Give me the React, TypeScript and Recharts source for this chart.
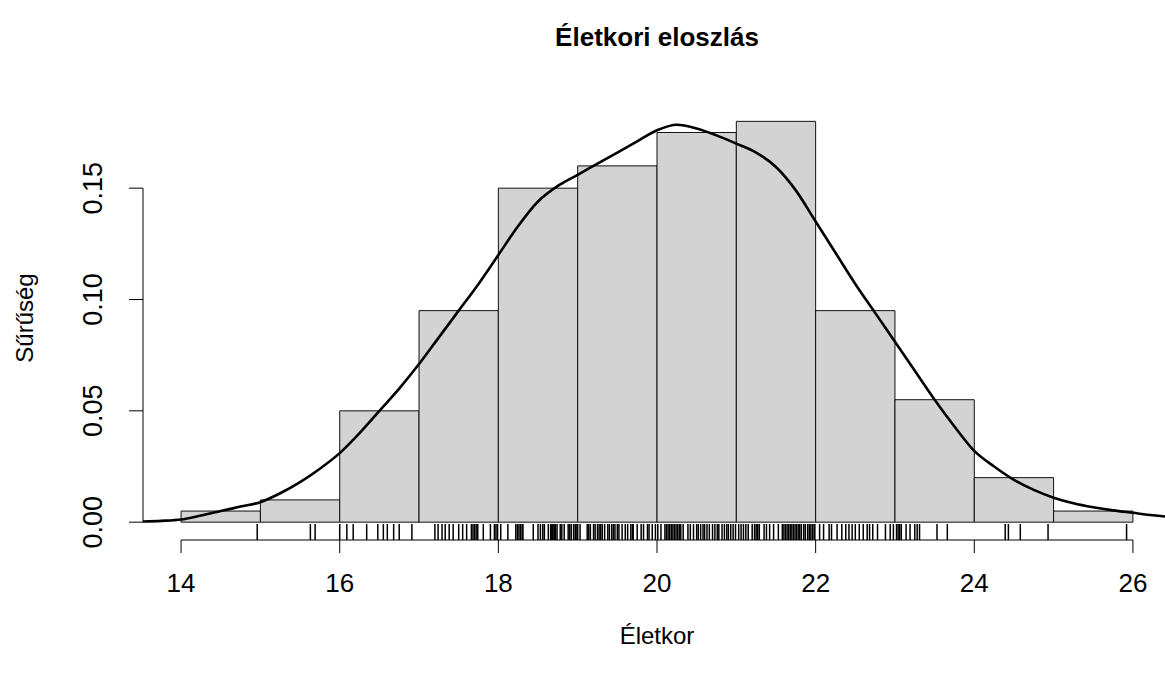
import {
  ComposedChart,
  Line,
  Scatter,
  XAxis,
  YAxis,
  ReferenceArea,
  ReferenceLine,
} from "recharts";

// histogram bins (density scale)
const binStarts = [14, 15, 16, 17, 18, 19, 20, 21, 22, 23, 24, 25];
const binDensity = [0.005, 0.01, 0.05, 0.095, 0.15, 0.16, 0.175, 0.18, 0.095, 0.055, 0.02, 0.005];

// kernel density curve
const densityAges = [
  13.52, 13.75, 14.0, 14.25, 14.5, 14.75, 15.0, 15.25, 15.5, 15.75, 16.0, 16.25, 16.5, 16.75,
  17.0, 17.25, 17.5, 17.75, 18.0, 18.25, 18.5, 18.75, 19.0, 19.25, 19.5, 19.75, 20.0, 20.25,
  20.5, 20.75, 21.0, 21.25, 21.5, 21.75, 22.0, 22.25, 22.5, 22.75, 23.0, 23.25, 23.5, 23.75,
  24.0, 24.25, 24.5, 24.75, 25.0, 25.25, 25.5, 25.75, 26.0, 26.25, 26.48,
];
const densityValues = [
  0.0003, 0.0006, 0.0012, 0.003, 0.005, 0.007, 0.009, 0.013, 0.018, 0.024, 0.031, 0.04, 0.05, 0.06,
  0.071, 0.083, 0.095, 0.107, 0.12, 0.133, 0.144, 0.151, 0.156, 0.161, 0.166, 0.171, 0.176, 0.1785,
  0.1768, 0.1737, 0.17, 0.166, 0.1595, 0.149, 0.135, 0.121, 0.107, 0.094, 0.081, 0.068, 0.055, 0.043,
  0.032, 0.025, 0.019, 0.0145, 0.011, 0.0085, 0.0067, 0.0053, 0.0042, 0.0031, 0.0023,
];

// individual observations (rug)
const rugAges = [
  14.96,
  15.63, 15.69,
  16.0, 16.09, 16.17, 16.34, 16.48, 16.55, 16.6, 16.68, 16.75, 16.91,
  17.2, 17.24, 17.29, 17.33, 17.38, 17.43, 17.5, 17.55, 17.6, 17.66, 17.68, 17.7, 17.72, 17.74,
  17.81, 17.9, 17.95, 17.97, 17.99,
  18.03, 18.12, 18.22, 18.24, 18.26, 18.28, 18.3, 18.31, 18.44, 18.5, 18.53, 18.56, 18.58, 18.63,
  18.66, 18.67, 18.68, 18.7, 18.71, 18.72, 18.74, 18.78, 18.8, 18.83, 18.88, 18.9, 18.92, 18.95,
  18.97, 18.99,
  19.0, 19.03, 19.12, 19.14, 19.16, 19.2, 19.22, 19.25, 19.27, 19.29, 19.31, 19.34, 19.38, 19.4,
  19.43, 19.45, 19.47, 19.5, 19.52, 19.56, 19.6, 19.63, 19.67, 19.69, 19.7, 19.75, 19.8, 19.83,
  19.88, 19.9, 19.94, 19.98,
  20.01, 20.05, 20.1, 20.12, 20.14, 20.16, 20.18, 20.2, 20.22, 20.24, 20.26, 20.28, 20.3, 20.33,
  20.39, 20.42, 20.46, 20.5, 20.52, 20.55, 20.58, 20.6, 20.63, 20.66, 20.7, 20.73, 20.76, 20.78,
  20.82, 20.85, 20.88, 20.9, 20.93, 20.96, 20.99,
  21.03, 21.06, 21.09, 21.12, 21.15, 21.2, 21.23, 21.25, 21.27, 21.29, 21.35, 21.38, 21.42, 21.47,
  21.53, 21.58, 21.6, 21.62, 21.64, 21.66, 21.68, 21.7, 21.72, 21.74, 21.76, 21.78, 21.8, 21.82,
  21.85, 21.87, 21.9, 21.92, 21.94, 21.96, 21.98, 21.99,
  22.05, 22.1, 22.17, 22.2, 22.27, 22.33, 22.38, 22.42, 22.46, 22.5, 22.55, 22.6, 22.65, 22.68,
  22.72, 22.78, 22.88, 22.94, 22.98,
  23.02, 23.04, 23.06, 23.08, 23.14, 23.19, 23.25, 23.28, 23.31, 23.53, 23.66,
  24.39, 24.43, 24.58, 24.93,
  25.92,
];

const xTicks = [14, 16, 18, 20, 22, 24, 26];
const yTicks = [0, 0.05, 0.1, 0.15];

const X_DOMAIN: [number, number] = [13.52, 26.48];
const Y_DOMAIN: [number, number] = [-0.008, 0.208];
const FONT = "'Liberation Sans', Arial, sans-serif";

const densityData = densityAges.map((x, i) => ({ x, d: densityValues[i] }));
const rugData = rugAges.map((x) => ({ x, y: Y_DOMAIN[0] }));

const RugTick = (props: any) => {
  const { cx, cy } = props;
  return <line x1={cx} x2={cx} y1={cy} y2={cy - 16} stroke="#000" strokeWidth={1.5} />;
};

const XTick = ({ x, payload }: any) => (
  <text x={x} y={592} textAnchor="middle" fontSize={26} fontFamily={FONT} fill="#000">
    {payload.value}
  </text>
);

const YTick = ({ y, payload }: any) => (
  <text
    x={102}
    y={y}
    transform={`rotate(-90, 102, ${y})`}
    textAnchor="middle"
    fontSize={27}
    fontFamily={FONT}
    fill="#000"
  >
    {Number(payload.value).toFixed(2)}
  </text>
);

export default function App() {
  return (
    <div
      style={{
        position: "absolute",
        left: 0,
        top: 0,
        width: 1165,
        height: 675,
        overflow: "hidden",
        background: "#fff",
        fontFamily: FONT,
      }}
    >
      <ComposedChart
        width={1180}
        height={675}
        data={densityData}
        margin={{ top: 59, right: 9, bottom: 0, left: 0 }}
      >
        <XAxis
          dataKey="x"
          type="number"
          domain={X_DOMAIN}
          allowDataOverflow
          ticks={xTicks}
          height={135}
          axisLine={false}
          tickSize={13}
          tickLine={{ stroke: "#000" }}
          tick={<XTick />}
          interval={0}
        />
        <YAxis
          type="number"
          domain={Y_DOMAIN}
          allowDataOverflow
          ticks={yTicks}
          width={143}
          axisLine={false}
          tickSize={14}
          tickLine={{ stroke: "#000" }}
          tick={<YTick />}
          interval={0}
        />
        {binStarts.map((b, i) => (
          <ReferenceArea
            key={b}
            x1={b}
            x2={b + 1}
            y1={0}
            y2={binDensity[i]}
            fill="#d3d3d3"
            fillOpacity={1}
            stroke="#111"
            strokeWidth={1}
          />
        ))}
        <ReferenceLine
          segment={[
            { x: X_DOMAIN[0], y: 0 },
            { x: X_DOMAIN[0], y: 0.15 },
          ]}
          stroke="#000"
        />
        <ReferenceLine
          segment={[
            { x: 14, y: Y_DOMAIN[0] },
            { x: 26, y: Y_DOMAIN[0] },
          ]}
          stroke="#000"
        />
        <Line
          dataKey="d"
          type="monotone"
          stroke="#000"
          strokeWidth={2.6}
          dot={false}
          activeDot={false}
          isAnimationActive={false}
        />
        <Scatter data={rugData} dataKey="y" shape={<RugTick />} isAnimationActive={false} />
      </ComposedChart>
      <div
        style={{
          position: "absolute",
          left: 657,
          top: 37,
          transform: "translate(-50%, -50%)",
          fontSize: 26,
          fontWeight: "bold",
          whiteSpace: "nowrap",
        }}
      >
        Életkori eloszlás
      </div>
      <div
        style={{
          position: "absolute",
          left: 657,
          top: 636,
          transform: "translate(-50%, -50%)",
          fontSize: 24,
          whiteSpace: "nowrap",
        }}
      >
        Életkor
      </div>
      <div
        style={{
          position: "absolute",
          left: 25,
          top: 318,
          transform: "translate(-50%, -50%) rotate(-90deg)",
          fontSize: 24,
          whiteSpace: "nowrap",
        }}
      >
        Sűrűség
      </div>
    </div>
  );
}
